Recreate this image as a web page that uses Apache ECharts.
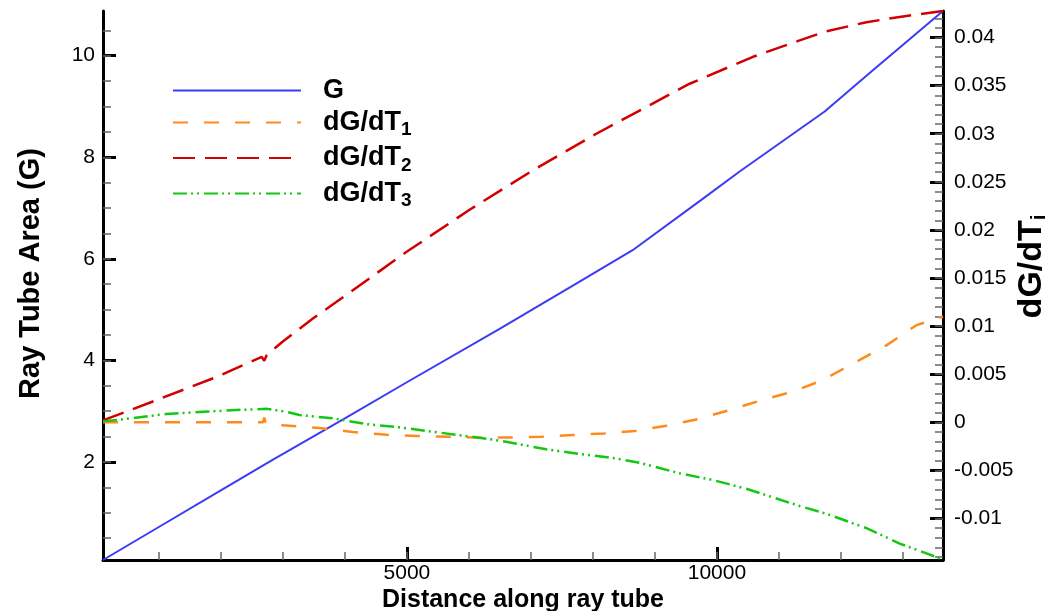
<!DOCTYPE html>
<html><head><meta charset="utf-8">
<script src="https://cdn.jsdelivr.net/npm/echarts@6/dist/echarts.min.js"></script>
<style>html,body{margin:0;padding:0;background:#fff}#c{width:1055px;height:611px}</style>
</head><body><div id="c"></div>
<script>
// ---- data ----
const gDist = [100, 1000, 2000, 2834, 4000, 5000, 6495, 7785, 8640, 9748, 10366, 11737, 12500, 13645];
const gArea = [0.07, 0.72, 1.44, 2.04, 2.86, 3.57, 4.62, 5.55, 6.17, 7.16, 7.72, 8.90, 9.70, 10.88];

const t1Dist = [100, 1000, 2000, 2680, 2700, 2720, 3000, 3592, 4129, 4668, 5152, 5689, 6226, 6656, 7168, 7677, 8189, 8673, 9184, 9694, 10205, 10716, 11226, 11710, 12248, 12732, 13216, 13645];
const t1Val  = [0, 0, 0, 0, 0.0005, 0, -0.0003, -0.0006, -0.001, -0.0013, -0.00142, -0.0015, -0.0016, -0.00157, -0.0015, -0.00132, -0.00115, -0.0009, -0.00035, 0.00034, 0.00128, 0.0023, 0.0032, 0.0044, 0.0063, 0.008, 0.0101, 0.0110];

const t2Dist = [100, 958, 1926, 2660, 2700, 2740, 3000, 3484, 3861, 4990, 6011, 7032, 8055, 9560, 10581, 11334, 11737, 12410, 13108, 13645];
const t2Val  = [0.0002, 0.0023, 0.0047, 0.0068, 0.0064, 0.0070, 0.0084, 0.0108, 0.0125, 0.0177, 0.0221, 0.0262, 0.0300, 0.0352, 0.0380, 0.0397, 0.0406, 0.0416, 0.0423, 0.04276];

const t3Dist = [100, 529, 1119, 1710, 2248, 2750, 3055, 3269, 3806, 4345, 4882, 5419, 5958, 6495, 7248, 7785, 8324, 8753, 9398, 9935, 10474, 10903, 11334, 11764, 12410, 12947, 13539, 13645];
const t3Val  = [0.0001, 0.0004, 0.00086, 0.0011, 0.00128, 0.0014, 0.0011, 0.00076, 0.00042, -0.00018, -0.00052, -0.00098, -0.00142, -0.0019, -0.0028, -0.0033, -0.0037, -0.0042, -0.0053, -0.0060, -0.0069, -0.0078, -0.0087, -0.0095, -0.0110, -0.0126, -0.0140, -0.01431];

const xTickLabels = [5000, 10000];
const leftTickLabels = [2, 4, 6, 8, 10];
const rightTickLabels = [-0.01, -0.005, 0, 0.005, 0.01, 0.015, 0.02, 0.025, 0.03, 0.035, 0.04];

const xRange = [100, 13645];
const leftRange = [0.07, 10.88];
const rightRange = [-0.01431, 0.04276];

// minor tick positions
const xMinor = []; for (let i = 1; i <= 13; i++) xMinor.push(i * 1000);
const leftMinor = []; for (let i = 1; i <= 21; i++) leftMinor.push(i * 0.5);
const rightMinor = []; for (let i = -14; i <= 42; i++) rightMinor.push(i / 1000);

const zip = (a, b) => a.map((v, i) => [v, b[i]]);
const FONT = 'Liberation Sans, Arial, Helvetica, sans-serif';

const chart = echarts.init(document.getElementById('c'), null, {renderer: 'canvas'});
const majorTick = {show: true, inside: true, length: 13, lineStyle: {color: '#000', width: 3}};
const minorTick = {show: true, inside: true, length: 8, lineStyle: {color: '#666', width: 1.5}};
const lbl = {color: '#000', fontFamily: FONT, fontSize: 21, formatter: v => String(v)};

const rich = {
  m: {fontFamily: FONT, fontWeight: 'bold', fontSize: 27, color: '#000', lineHeight: 34},
  s: {fontFamily: FONT, fontWeight: 'bold', fontSize: 19, color: '#000', lineHeight: 13, verticalAlign: 'bottom'}
};

const option = {
  animation: false,
  backgroundColor: '#fff',
  grid: {left: 103, right: 112, top: 11, bottom: 51, containLabel: false, outerBoundsMode: 'none'},
  legend: {
    orient: 'vertical', left: 172, top: 77, padding: 0, itemWidth: 128, itemHeight: 14, itemGap: 5,
    itemStyle: {opacity: 0},
    textStyle: {padding: [0, 0, 0, 17], rich: rich},
    formatter: function (name) {
      const m = name.match(/^(dG\/dT)(\d)$/);
      if (m) return '{m|' + m[1] + '}{s|' + m[2] + '}';
      return '{m|' + name + '}';
    },
    data: ['G', 'dG/dT1', 'dG/dT2', 'dG/dT3']
  },
  xAxis: [
    {type: 'value', min: xRange[0], max: xRange[1], position: 'bottom',
     name: 'Distance along ray tube', nameLocation: 'middle', nameGap: 28, nameMoveOverlap: false,
     nameTextStyle: {fontFamily: FONT, fontWeight: 'bold', fontSize: 25, color: '#000'},
     axisLine: {show: true, onZero: false, lineStyle: {color: '#000', width: 3}},
     axisTick: Object.assign({customValues: xTickLabels}, majorTick),
     axisLabel: Object.assign({customValues: xTickLabels, margin: 3}, lbl),
     splitLine: {show: false}},
    {type: 'value', min: xRange[0], max: xRange[1], position: 'bottom',
     axisLine: {show: false, onZero: false}, axisLabel: {show: false}, splitLine: {show: false},
     axisTick: Object.assign({customValues: xMinor}, minorTick)}
  ],
  yAxis: [
    {type: 'value', min: leftRange[0], max: leftRange[1], position: 'left',
     name: 'Ray Tube Area (G)', nameLocation: 'middle', nameGap: 58, nameRotate: 90, nameMoveOverlap: false,
     nameTextStyle: {fontFamily: FONT, fontWeight: 'bold', fontSize: 29, color: '#000', padding: [0, 0, 0, 24]},
     axisLine: {show: true, onZero: false, lineStyle: {color: '#000', width: 3}},
     axisTick: Object.assign({customValues: leftTickLabels}, majorTick),
     axisLabel: Object.assign({customValues: leftTickLabels, margin: 8}, lbl),
     splitLine: {show: false}},
    {type: 'value', min: rightRange[0], max: rightRange[1], position: 'right',
     name: '{m|dG/dT}{s|i}', nameLocation: 'middle', nameGap: 72, nameRotate: 90, nameMoveOverlap: false,
     nameTextStyle: {padding: [0, 0, 0, 38], rich: {
       m: {fontFamily: FONT, fontWeight: 'bold', fontSize: 34, color: '#000', lineHeight: 34},
       s: {fontFamily: FONT, fontWeight: 'bold', fontSize: 20, color: '#000', lineHeight: 10, verticalAlign: 'bottom'}}},
     axisLine: {show: true, onZero: false, lineStyle: {color: '#000', width: 3}},
     axisTick: Object.assign({customValues: rightTickLabels}, majorTick),
     axisLabel: Object.assign({customValues: rightTickLabels, margin: 11}, lbl),
     splitLine: {show: false}},
    {type: 'value', min: leftRange[0], max: leftRange[1], position: 'left',
     axisLine: {show: false, onZero: false}, axisLabel: {show: false}, splitLine: {show: false},
     axisTick: Object.assign({customValues: leftMinor}, minorTick)},
    {type: 'value', min: rightRange[0], max: rightRange[1], position: 'right',
     axisLine: {show: false, onZero: false}, axisLabel: {show: false}, splitLine: {show: false},
     axisTick: Object.assign({customValues: rightMinor}, minorTick)}
  ],
  series: [
    {name: 'G', type: 'line', yAxisIndex: 0, data: zip(gDist, gArea), symbol: 'none', smooth: false,
     lineStyle: {color: '#3b3bf7', width: 2, type: 'solid'}, itemStyle: {color: '#3b3bf7'}},
    {name: 'dG/dT1', type: 'line', yAxisIndex: 1, data: zip(t1Dist, t1Val), symbol: 'none',
     lineStyle: {color: '#ff8a1c', width: 2.5, type: [15, 16]}, itemStyle: {color: '#ff8a1c'}},
    {name: 'dG/dT2', type: 'line', yAxisIndex: 1, data: zip(t2Dist, t2Val), symbol: 'none',
     lineStyle: {color: '#d20000', width: 2.5, type: [22, 10]}, itemStyle: {color: '#d20000'}},
    {name: 'dG/dT3', type: 'line', yAxisIndex: 1, data: zip(t3Dist, t3Val), symbol: 'none',
     lineStyle: {color: '#12c812', width: 2.5, type: [14, 4, 2, 4, 2, 5]}, itemStyle: {color: '#12c812'}}
  ]
};
chart.setOption(option);
</script>
</body></html>
